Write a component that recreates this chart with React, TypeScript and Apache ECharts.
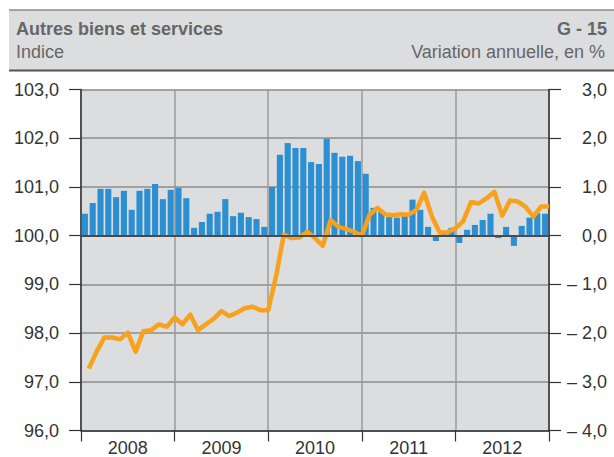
import React, { useEffect, useRef } from "react";
import * as echarts from "echarts";

const years = ["2008", "2009", "2010", "2011", "2012"];
const monthsPerYear = 12;

// Variation annuelle, en % (right axis) – monthly bars
const variation = [
  0.45, 0.67, 0.96, 0.96, 0.79, 0.92, 0.53, 0.92, 0.96, 1.06, 0.75, 0.94,
  0.98, 0.77, 0.16, 0.28, 0.45, 0.49, 0.75, 0.4, 0.47, 0.38, 0.34, 0.18,
  1.0, 1.66, 1.9, 1.8, 1.8, 1.51, 1.47, 1.99, 1.7, 1.62, 1.64, 1.53,
  1.27, 0.57, 0.5, 0.38, 0.37, 0.4, 0.74, 0.53, 0.18, -0.11, 0.07, 0.16,
  -0.15, 0.12, 0.22, 0.32, 0.45, -0.05, 0.18, -0.21, 0.2, 0.37, 0.46, 0.45,
];

// Indice (left axis) – monthly line
const indice = [
  97.27, 97.62, 97.91, 97.91, 97.87, 98.01, 97.62, 98.04, 98.06, 98.18, 98.13, 98.32,
  98.18, 98.38, 98.06, 98.18, 98.29, 98.45, 98.35, 98.42, 98.51, 98.54, 98.47, 98.47,
  99.16, 100.02, 99.95, 99.96, 100.08, 99.95, 99.79, 100.32, 100.18, 100.14, 100.08, 100.0,
  100.43, 100.57, 100.44, 100.42, 100.44, 100.43, 100.53, 100.88, 100.39, 100.06, 100.07, 100.15,
  100.3, 100.69, 100.66, 100.77, 100.9, 100.41, 100.72, 100.7, 100.59, 100.39, 100.6, 100.6,
];

const leftMin = 96;
const leftMax = 103;
const rightMin = -4;
const rightMax = 3;

const FONT = '"Liberation Sans", Arial, sans-serif';

export default function App() {
  const ref = useRef<HTMLDivElement>(null);

  useEffect(() => {
    if (!ref.current) return;
    const chart = echarts.init(ref.current, undefined, { renderer: "svg" });
    const months: string[] = [];
    years.forEach((y) => {
      for (let m = 1; m <= monthsPerYear; m++) months.push(y + "-" + m);
    });
    const total = months.length;

    const fmt = (v: number) => {
      const s = Math.abs(v).toFixed(1).replace(".", ",");
      return v < 0 ? "\u2013 " + s : s;
    };

    const headerText = (text: string, x: number, y: number, align: string, bold: boolean) => ({
      type: "text",
      x,
      y,
      silent: true,
      style: {
        text,
        fontSize: 18,
        fontWeight: bold ? "bold" : "normal",
        fontFamily: FONT,
        fill: "#666666",
        verticalAlign: "middle",
        align,
      },
    });

    chart.setOption({
      animation: false,
      textStyle: { fontFamily: FONT },
      graphic: [
        {
          type: "rect",
          shape: { x: 9, y: 10, width: 605, height: 60 },
          style: { fill: "#dcdddf" },
          silent: true,
        },
        {
          type: "line",
          shape: { x1: 9, y1: 10, x2: 614, y2: 10 },
          style: { stroke: "#8a8a8a", lineWidth: 1.5 },
          silent: true,
        },
        {
          type: "line",
          shape: { x1: 9, y1: 70.5, x2: 614, y2: 70.5 },
          style: { stroke: "#555555", lineWidth: 2 },
          silent: true,
        },
        headerText("Autres biens et services", 16, 28.5, "left", true),
        headerText("G - 15", 607, 28.5, "right", true),
        headerText("Indice", 16, 51.5, "left", false),
        headerText("Variation annuelle, en %", 605, 51.5, "right", false),
      ],
      grid: {
        left: 81,
        right: 65,
        top: 89.5,
        bottom: 26.5,
        show: true,
        backgroundColor: "#dcdddf",
        borderWidth: 0,
      },
      xAxis: [
        {
          type: "category",
          data: months,
          boundaryGap: true,
          show: false,
        },
        {
          type: "value",
          min: 0,
          max: total,
          interval: monthsPerYear,
          position: "bottom",
          axisLine: { show: true, lineStyle: { color: "#333333", width: 1.5 } },
          axisTick: { show: true, length: 11, lineStyle: { color: "#333333", width: 1.2 } },
          axisLabel: { show: false },
          splitLine: { show: true, lineStyle: { color: "#9a9a9a", width: 1.5 } },
        },
        {
          type: "category",
          data: years,
          boundaryGap: true,
          position: "bottom",
          axisLine: { show: false },
          axisTick: { show: false },
          splitLine: { show: false },
          axisLabel: {
            show: true,
            margin: 8,
            fontSize: 18,
            color: "#333333",
            fontFamily: FONT,
          },
        },
      ],
      yAxis: [
        {
          type: "value",
          min: leftMin,
          max: leftMax,
          interval: 1,
          position: "left",
          axisLine: { show: true, lineStyle: { color: "#333333", width: 1.5 } },
          axisTick: { show: true, length: 12, lineStyle: { color: "#333333", width: 1.2 } },
          axisLabel: {
            margin: 22,
            fontSize: 18,
            color: "#333333",
            fontFamily: FONT,
            formatter: (v: number) => fmt(v),
          },
          splitLine: { show: true, lineStyle: { color: "#8c8c8c", width: 1.5 } },
        },
        {
          type: "value",
          min: rightMin,
          max: rightMax,
          interval: 1,
          position: "right",
          axisLine: { show: true, lineStyle: { color: "#333333", width: 1.5 } },
          axisTick: { show: true, length: 12, lineStyle: { color: "#333333", width: 1.2 } },
          axisLabel: {
            margin: 58,
            align: "right",
            fontSize: 18,
            color: "#333333",
            fontFamily: FONT,
            formatter: (v: number) => fmt(v),
          },
          splitLine: { show: false },
        },
      ],
      series: [
        {
          type: "bar",
          xAxisIndex: 0,
          yAxisIndex: 1,
          data: variation,
          barCategoryGap: "22%",
          itemStyle: { color: "#2b8fd1" },
          z: 2,
          markLine: {
            silent: true,
            symbol: "none",
            label: { show: false },
            lineStyle: { color: "#4a4a4a", width: 2, type: "solid" },
            data: [{ yAxis: 0 }],
          },
        },
        {
          type: "line",
          xAxisIndex: 1,
          yAxisIndex: 0,
          data: indice.map((v, i) => [i + 1, v]),
          showSymbol: false,
          symbol: "none",
          lineStyle: { color: "#f7a11c", width: 4.5, join: "round" },
          z: 3,
        },
      ],
    });
    return () => chart.dispose();
  }, []);

  return <div ref={ref} style={{ width: 614, height: 457, position: "absolute", left: 0, top: 0 }} />;
}
